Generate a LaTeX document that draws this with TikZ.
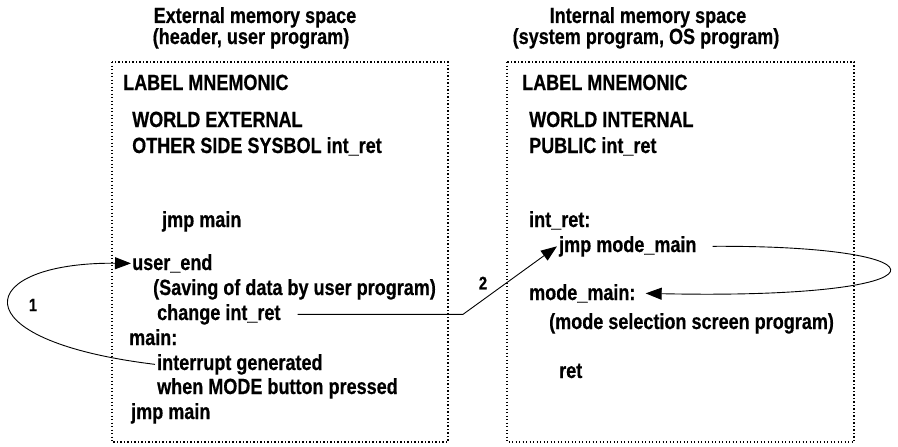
\documentclass[tikz,border=0pt]{standalone}
\usepackage{fontspec}
\setmainfont{Liberation Sans}[FakeStretch=0.82,BoldFeatures={FakeBold=0.5}]
\usetikzlibrary{arrows.meta}

\begin{document}
\begin{tikzpicture}[x=1pt,y=-1pt,
  txt/.style={anchor=base west,inner sep=0pt,font=\bfseries\fontsize{22}{26}\selectfont},
  head/.style={anchor=base,inner sep=0pt,font=\bfseries\fontsize{22}{26}\selectfont},
  num/.style={inner sep=0pt,font=\bfseries\fontsize{18}{20}\selectfont},
  dotbox/.style={line width=1.1pt,dash pattern=on 1.3pt off 2.2pt},
  arr/.style={line width=0.9pt,-{Triangle[length=16pt,width=12pt]}}]
\useasboundingbox (0,0) rectangle (898,447);
% headers
\node[head] (exthead) at (255,23) {External memory space};
\node[head] (extsub) at (251,44) {(header, user program)};
\node[head] (inthead) at (648,23) {Internal memory space};
\node[head] (intsub) at (646,44) {(system program, OS program)};
% boxes
\draw[dotbox] (112,62) rectangle (448,442);
\draw[dotbox] (507,62) rectangle (854,442);
% external side
\node[txt] (lbl1) at (123,90) {LABEL MNEMONIC};
\node[txt] (world1) at (132,127) {WORLD EXTERNAL};
\node[txt] (other) at (132,153) {OTHER SIDE SYSBOL int\_ret};
\node[txt] (jmpa) at (162,227) {jmp main};
\node[txt] (userend) at (132,270) {user\_end};
\node[txt] (saving) at (153,295) {(Saving of data by user program)};
\node[txt] (chgret) at (157,320) {change int\_ret};
\node[txt] (mainlbl) at (129,345) {main:};
\node[txt] (intgen) at (157,370) {interrupt generated};
\node[txt] (whenmode) at (157,394) {when MODE button pressed};
\node[txt] (jmpb) at (131,419) {jmp main};
% internal side
\node[txt] (lbl2) at (522,90) {LABEL MNEMONIC};
\node[txt] (world2) at (529,127) {WORLD INTERNAL};
\node[txt] (public) at (529,153) {PUBLIC int\_ret};
\node[txt] (intret) at (529,227) {int\_ret:};
\node[txt] (jmpmode) at (559,252) {jmp mode\_main};
\node[txt] (modemain) at (529,300) {mode\_main:};
\node[txt] (modesel) at (549,329) {(mode selection screen program)};
\node[txt] (ret) at (559,378) {ret};
% arrows
\coordinate (kink) at (463,316);
\draw[arr] ([xshift=-2pt]intgen.west) .. controls (-45,340) and (-25,262) .. ([xshift=-1pt]userend.west);
\node[num] (n1) at (33,305) {1};
\draw[arr] ([xshift=17pt]chgret.east) -- (chgret.east -| kink) -- ([xshift=-2pt]jmpmode.west);
\node[num] (n2) at (483,283) {2};
\draw[arr] ([xshift=16pt]jmpmode.east) .. controls (958,245) and (958,300) .. ([xshift=10pt]modemain.east);
\end{tikzpicture}
\end{document}
